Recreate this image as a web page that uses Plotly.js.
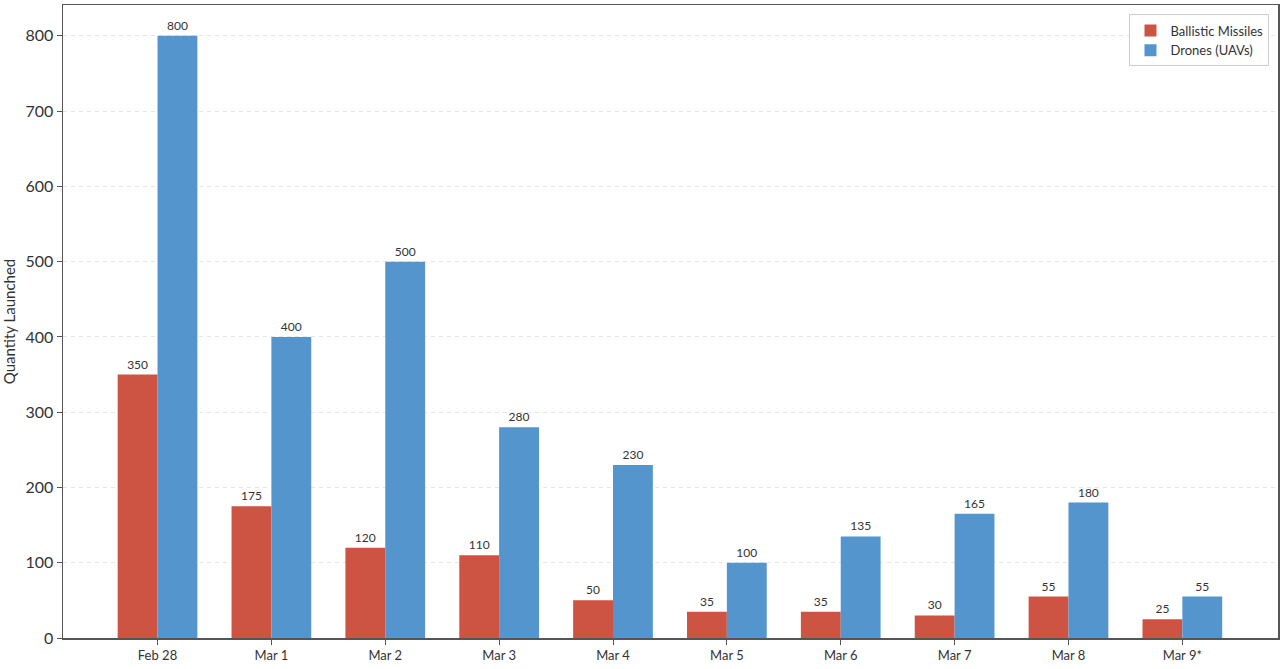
<!DOCTYPE html>
<html>
<head>
<meta charset="utf-8">
<script src="https://cdn.plot.ly/plotly-3.0.1.min.js"></script>
<style>
  html, body { margin: 0; padding: 0; background: #fff; }
  #chart { width: 1280px; height: 669px; }
</style>
</head>
<body>
<div id="chart"></div>
<script>
// launch counts per day
const days = ["Feb 28", "Mar 1", "Mar 2", "Mar 3", "Mar 4", "Mar 5", "Mar 6", "Mar 7", "Mar 8", "Mar 9*"];
const missiles = [350, 175, 120, 110, 50, 35, 35, 30, 55, 25];
const drones = [800, 400, 500, 280, 230, 100, 135, 165, 180, 55];
const yTicks = [0, 100, 200, 300, 400, 500, 600, 700, 800];

const RED = "#cd5442";
const BLUE = "#5395cc";

function barTrace(name, vals, color) {
  return {
    type: "bar", name: name, x: days, y: vals,
    marker: {color: color},
    text: vals.map(String), textposition: "outside", cliponaxis: false,
    textfont: {size: 12, color: "#333", family: "Lato, Inter, sans-serif"}
  };
}

let traces = [
  barTrace("Ballistic Missiles", missiles, RED),
  barTrace("Drones (UAVs)", drones, BLUE)
];

let layout = {
  width: 1280, height: 669,
  margin: {l: 63, r: 2, t: 5, b: 31},
  paper_bgcolor: "#fff", plot_bgcolor: "#fff",
  font: {family: "Lato, Inter, sans-serif", color: "#333"},
  barmode: "group", bargap: 0.3, bargroupgap: 0,
  showlegend: true,
  legend: {
    x: 0.993, y: 0.985, xanchor: "right", yanchor: "top",
    bordercolor: "#cccccc", borderwidth: 1, bgcolor: "#fff",
    font: {size: 13, color: "#333"}, tracegroupgap: 0
  },
  xaxis: {
    range: [-0.83, 9.84],
    showline: true, linecolor: "#555", linewidth: 1.5, mirror: true,
    ticks: "outside", ticklen: 5, tickcolor: "#555",
    tickfont: {size: 13, color: "#333"},
    showgrid: false
  },
  yaxis: {
    range: [0, 841],
    tickvals: yTicks,
    showline: true, linecolor: "#555", linewidth: 1.5, mirror: true,
    ticks: "outside", ticklen: 5, tickcolor: "#555",
    tickfont: {size: 16, color: "#333"},
    gridcolor: "#e6e6e6", griddash: "4px,4px", gridwidth: 1,
    zeroline: false,
    title: {text: "Quantity Launched", font: {size: 15, color: "#333"}, standoff: 10}
  }
};

Plotly.newPlot("chart", traces, layout, {displayModeBar: false, staticPlot: true});
</script>
</body>
</html>
